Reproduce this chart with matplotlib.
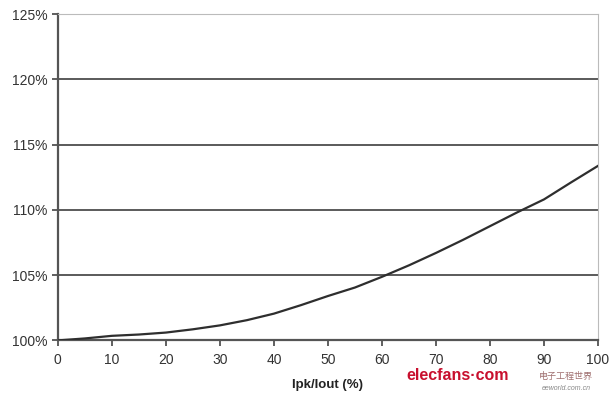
import matplotlib
matplotlib.use("Agg")
import matplotlib.pyplot as plt
from matplotlib.ticker import FuncFormatter

# Ipk/Iout (%) vs relative value (%)
ratio = [0, 5, 10, 15, 20, 25, 30, 35, 40, 45, 50,
         55, 60, 65, 70, 75, 80, 85, 90, 95, 100]
value = [100.0, 100.15, 100.35, 100.45, 100.6, 100.85, 101.15, 101.55, 102.05, 102.7, 103.4,
         104.05, 104.87, 105.75, 106.7, 107.7, 108.75, 109.8, 110.8, 112.1, 113.37]

xticks = list(range(0, 101, 10))
yticks = [100, 105, 110, 115, 120, 125]

plt.rcParams['font.family'] = ['Liberation Sans', 'DejaVu Sans']

fig = plt.figure(figsize=(6.09, 4.0), dpi=100)
ax = fig.add_axes([0.095, 0.149, 0.887, 0.816])

for yv in yticks[1:]:
    ax.axhline(yv, color='#4d4d4d', lw=1.3, zorder=1)

ax.plot(ratio, value, color='#2e2e2e', lw=1.6, zorder=3)

ax.set_xlim(0, 100)
ax.set_ylim(100, 125)
ax.set_xticks(xticks)
ax.set_yticks(yticks)
ax.yaxis.set_major_formatter(FuncFormatter(lambda v, p: '%d%%' % v))

for s in ['left', 'bottom']:
    ax.spines[s].set_color('#555555')
    ax.spines[s].set_linewidth(1.6)
ax.spines['right'].set_color('#bbbbbb')
ax.spines['top'].set_color('#bbbbbb')
ax.tick_params(axis='both', colors='#444444', length=4, width=1.2,
               labelsize=10, labelcolor='#333333')
ax.tick_params(axis='x', pad=5)

ax.set_xlabel('Ipk/Iout (%)', fontsize=9.5, fontweight='bold', color='#222222', labelpad=9)

# watermark
fig.text(0.668, 0.062, 'elecfans\u00b7com', color='#c8102e', fontsize=11.5,
         fontweight='bold', ha='left', va='center')
fig.text(0.930, 0.060, '电子工程世界', color='#a07070', fontsize=6.5,
         ha='center', va='center', family=['Noto Sans CJK SC', 'DejaVu Sans'])
fig.text(0.930, 0.028, 'eeworld.com.cn', color='#888888', fontsize=5,
         ha='center', va='center', style='italic')

fig.savefig('out.png', dpi=100)
